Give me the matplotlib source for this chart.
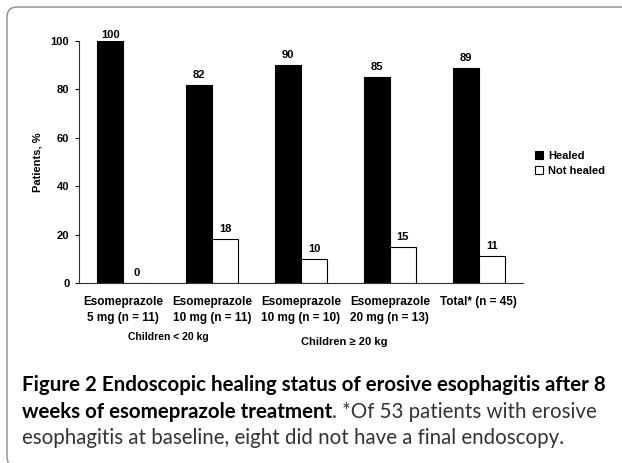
import matplotlib
matplotlib.use('Agg')
import matplotlib.pyplot as plt
from matplotlib.patches import FancyBboxPatch
from matplotlib.transforms import IdentityTransform
import numpy as np

groups = ['Esomeprazole\n5 mg (n = 11)', 'Esomeprazole\n10 mg (n = 11)',
          'Esomeprazole\n10 mg (n = 10)', 'Esomeprazole\n20 mg (n = 13)',
          'Total* (n = 45)']
healed = [100, 82, 90, 85, 89]
not_healed = [0, 18, 10, 15, 11]
yticks = [0, 20, 40, 60, 80, 100]

plt.rcParams['font.family'] = ['Liberation Sans', 'DejaVu Sans']
plt.rcParams['font.weight'] = 'bold'

W, H = 622, 463
fig = plt.figure(figsize=(W / 100, H / 100), dpi=100)
ax = fig.add_axes([79 / W, (H - 283) / H, 444 / W, 242 / H])

x = np.arange(len(groups))
bw = 0.292
b1 = ax.bar(x - bw / 2, healed, bw, color='black', edgecolor='black', lw=0.8, label='Healed')
b2 = ax.bar(x + bw / 2, not_healed, bw, color='white', edgecolor='black', lw=0.8, label='Not healed')

for bars, vals in ((b1, healed), (b2, not_healed)):
    for r, v in zip(bars, vals):
        off = 1.5 if v >= 100 else 5
        ax.annotate(str(v), (r.get_x() + r.get_width() / 2, v), xytext=(0, off),
                    textcoords='offset pixels', ha='center', va='bottom',
                    fontsize=8, fontweight='bold')

ax.set_xlim(-0.5, len(groups) - 0.5)
ax.set_ylim(0, 100)
ax.set_yticks(yticks)
ax.set_xticks(x)
ax.set_xticklabels(groups, fontsize=8.5, fontweight='bold', linespacing=1.5)
ax.tick_params(axis='x', length=0, pad=9)
ax.tick_params(axis='y', length=3, width=0.8, pad=4, labelsize=8)
for s in ('top', 'right'):
    ax.spines[s].set_visible(False)
for s in ('left', 'bottom'):
    ax.spines[s].set_linewidth(0.8)
    ax.spines[s].set_color('#333333')

ax.set_ylabel('Patients, %', fontsize=8, fontweight='bold', va='center')
ax.yaxis.set_label_coords(-0.094, 0.5)

fig.legend(handles=[b1, b2], loc='center left', bbox_to_anchor=(535 / W, 1 - 163.5 / H),
           frameon=False, fontsize=8, handlelength=0.75, handleheight=0.75,
           handletextpad=0.4, labelspacing=0.45, borderpad=0, borderaxespad=0)

fig.text(168 / W, 1 - 337 / H, 'Children < 20 kg', ha='center', va='center',
         fontsize=7.5, fontweight='bold')
fig.text(344 / W, 1 - 342 / H, 'Children \u2265 20 kg', ha='center', va='center',
         fontsize=8, fontweight='bold')

# rounded frame, open on the right and bottom edges of the picture
frame = FancyBboxPatch((7, -4), 900, H - 3, boxstyle='round,pad=0,rounding_size=10',
                       transform=IdentityTransform(), fill=False, edgecolor='#8a8a8a', lw=1.0)
fig.patches.append(frame)

# caption, mixed bold / regular
cap_font = ['Lato', 'DejaVu Sans']
cs = 14.8
fig.text(22 / W, 1 - 385 / H, 'Figure 2 Endoscopic healing status of erosive esophagitis after 8',
         family=cap_font, fontsize=cs, fontweight='bold', va='center')
t2 = fig.text(22 / W, 1 - 412 / H, 'weeks of esomeprazole treatment',
              family=cap_font, fontsize=cs, fontweight='bold', va='center')
fig.canvas.draw()
bb = t2.get_window_extent(fig.canvas.get_renderer())
fig.text(bb.x1 / W, 1 - 412 / H, '. *Of 53 patients with erosive',
         family=cap_font, fontsize=cs, fontweight='normal', va='center', color='#333333')
fig.text(22 / W, 1 - 438 / H, 'esophagitis at baseline, eight did not have a final endoscopy.',
         family=cap_font, fontsize=cs, fontweight='normal', va='center', color='#333333')

fig.savefig('out.png', dpi=100)
